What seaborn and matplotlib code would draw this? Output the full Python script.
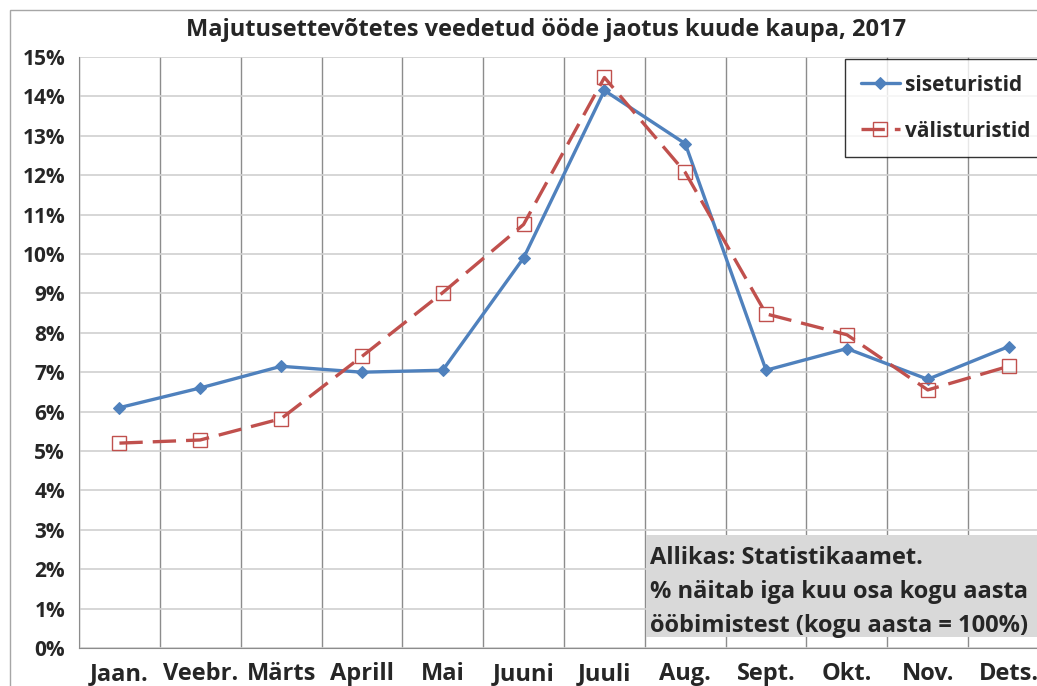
"""
Majutusettevõtetes veedetud ööde jaotus kuude kaupa, 2017 - line chart recreation.
"""
import matplotlib
matplotlib.use("Agg")
import matplotlib.pyplot as plt
import matplotlib.patches as mpatches
from matplotlib.ticker import FixedLocator, FuncFormatter
import numpy as np
import pandas as pd
import seaborn as sns

# Data (share of annual nights, %)
months = ["Jaan.", "Veebr.", "Märts", "Aprill", "Mai", "Juuni",
          "Juuli", "Aug.", "Sept.", "Okt.", "Nov.", "Dets."]
siseturistid = [6.1, 6.6, 7.15, 7.0, 7.05, 9.9, 14.15, 12.8, 7.05, 7.6, 6.82, 7.65]
valisturistid = [5.2, 5.28, 5.82, 7.4, 9.02, 10.75, 14.48, 12.07, 8.48, 7.95, 6.55, 7.15]

title = "Majutusettevõtetes veedetud ööde jaotus kuude kaupa, 2017"
note = "Allikas: Statistikaamet.\n% näitab iga kuu osa kogu aasta\nööbimistest (kogu aasta = 100%)"

BLUE = "#4F81BD"
RED = "#C0504D"

sns.set_style("white")
plt.rcParams["font.family"] = ["Open Sans", "DejaVu Sans"]
plt.rcParams["font.weight"] = "bold"

W, H = 1037, 686
fig = plt.figure(figsize=(W / 100, H / 100), dpi=100)
ax = fig.add_axes([79 / W, 1 - 648 / H, 970 / W, (648 - 57) / H])

df = pd.DataFrame({"month": months, "sise": siseturistid, "valis": valisturistid})

sns.lineplot(data=df, x="month", y="sise", ax=ax, sort=False, color=BLUE,
             linewidth=2.4, marker="D", markersize=6.5, markeredgecolor=BLUE,
             label="siseturistid")
sns.lineplot(data=df, x="month", y="valis", ax=ax, sort=False, color=RED,
             linewidth=2.4, marker="s", markersize=10,
             markerfacecolor="none", markeredgecolor=RED, markeredgewidth=1.0,
             label="välisturistid")
ax.lines[1].set_dashes((7, 3))

ax.set_xlim(-0.5, len(months) - 0.5)
ax.set_ylim(0, 15)
ax.set_xlabel("")
ax.set_ylabel("")

# grid: vertical lines at category boundaries, horizontal at each percent
ax.set_yticks(np.arange(0, 16, 1))
ax.yaxis.set_major_formatter(FuncFormatter(lambda v, _: f"{v:.0f}%"))
ax.xaxis.set_minor_locator(FixedLocator(np.arange(-0.5, len(months), 1)))
ax.grid(axis="y", which="major", color="#D0D0D0", linewidth=1.2)
ax.grid(axis="x", which="minor", color="#8C8C8C", linewidth=1.0)
ax.set_axisbelow(True)

ax.tick_params(axis="x", which="major", length=0, labelsize=17, pad=10)
ax.tick_params(axis="x", which="minor", length=7, color="#8C8C8C", direction="out")
ax.tick_params(axis="y", length=7, color="#8C8C8C", labelsize=15, pad=3)
for lab in ax.get_xticklabels() + ax.get_yticklabels():
    lab.set_fontweight("bold")

for side in ["top", "right"]:
    ax.spines[side].set_visible(False)
ax.spines["left"].set_color("#8C8C8C")
ax.spines["bottom"].set_color("#8C8C8C")

# legend
leg = ax.legend(loc="upper left", bbox_to_anchor=(845 / W, 1 - 59 / H),
                bbox_transform=fig.transFigure, frameon=True, fancybox=False,
                prop={"size": 15, "weight": "bold"}, handlelength=1.9,
                handletextpad=0.25, labelspacing=1.2, borderpad=0.75,
                borderaxespad=0)
leg.get_frame().set_edgecolor("black")
leg.get_frame().set_linewidth(1.0)

# source note on a grey panel that runs off the right edge
fig.patches.append(mpatches.Rectangle((646 / W, 1 - 637 / H), 400 / W, 102 / H,
                                      transform=fig.transFigure,
                                      facecolor="#D9D9D9", edgecolor="none"))
fig.text(650 / W, 1 - 546 / H, note, ha="left", va="top", fontsize=17,
         fontweight="bold", linespacing=1.55)

fig.text(546 / W, 1 - 30 / H, title, ha="center", va="center", fontsize=17,
         fontweight="bold")

# outer chart border
fig.patches.append(mpatches.Rectangle((10 / W, -0.1), 1.2, 1 - 10 / H + 0.1,
                                      transform=fig.transFigure, fill=False,
                                      edgecolor="#A6A6A6", linewidth=1.0))

fig.savefig("out.png", dpi=100)
